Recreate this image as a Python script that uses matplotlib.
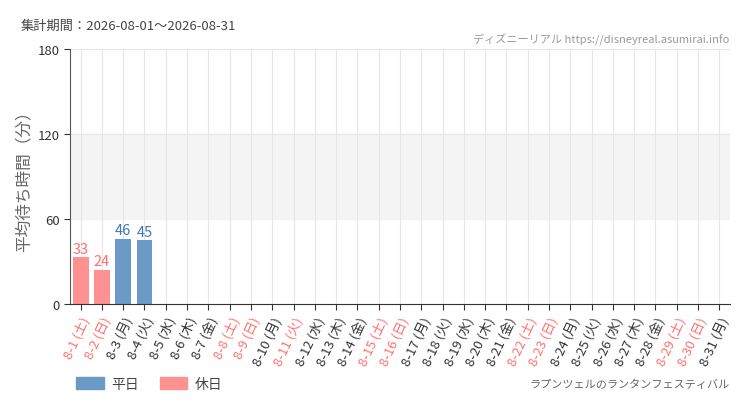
import matplotlib
matplotlib.use("Agg")
import matplotlib.pyplot as plt
from matplotlib.patches import Patch

plt.rcParams['font.family'] = ['Noto Sans CJK JP', 'DejaVu Sans']

# data
days = list(range(1, 32))
weekdays = ['土', '日', '月', '火', '水', '木', '金']
holidays = [1, 2, 8, 9, 11, 15, 16, 22, 23, 29, 30]
wait_values = {1: 33, 2: 24, 3: 46, 4: 45}
series_name = 'ラプンツェルのランタンフェスティバル'
period = '集計期間：2026-08-01～2026-08-31'
watermark = 'ディズニーリアル https://disneyreal.asumirai.info'
y_ticks = [0, 60, 120, 180]

blue = '#6b9ac6'
pink = '#ff9191'
blue_txt = '#3d78b3'
red_txt = '#ff6e6e'

labels = [f"8-{d} ({weekdays[(d - 1) % 7]})" for d in days]

fig = plt.figure(figsize=(7.5, 4.1), dpi=100)
ax = fig.add_axes([0.0933, 0.256, 0.88, 0.622])

ax.axhspan(60, 120, color='#f4f4f4', zorder=0)
for x in range(len(days)):
    ax.axvline(x, color='#e6e6e6', lw=0.8, zorder=0.5)
for y in [120, 180]:
    ax.axhline(y, color='#e6e6e6', lw=0.8, zorder=0.5)

for i, d in enumerate(days):
    if d not in wait_values:
        continue
    v = wait_values[d]
    hol = d in holidays
    ax.bar(i, v, width=0.75, color=pink if hol else blue, zorder=2)
    ax.text(i, v + 1.2, str(v), ha='center', va='bottom', fontsize=10.5,
            color=red_txt if hol else blue_txt)

ax.set_xlim(-0.5, len(days) - 0.5)
ax.set_ylim(0, 180)
ax.set_yticks(y_ticks)
ax.set_yticklabels([str(t) for t in y_ticks], fontsize=9.5, color='#333333')
ax.set_xticks(range(len(days)))
ax.set_xticklabels(labels, rotation=65, ha='right', rotation_mode='anchor', fontsize=9.5)
for lbl, d in zip(ax.get_xticklabels(), days):
    lbl.set_color('#ff7070' if d in holidays else '#333333')

for s in ['top', 'right']:
    ax.spines[s].set_visible(False)
ax.spines['left'].set_color('#555555')
ax.spines['bottom'].set_color('#333333')
ax.tick_params(axis='both', length=4, color='#333333')
ax.set_ylabel('平均待ち時間（分）', fontsize=12, color='#666666')
ax.yaxis.set_label_coords(-0.056, 0.5)

fig.text(0.027, 0.935, period, fontsize=9.5, color='#444444', va='center')
fig.text(0.973, 0.903, watermark, fontsize=8, color='#999999', ha='right', va='center')
fig.text(0.973, 0.062, series_name, fontsize=8, color='#666666', ha='right', va='center')

handles = [Patch(color=blue, label='平日'), Patch(color=pink, label='休日')]
fig.legend(handles=handles, loc='center left', bbox_to_anchor=(0.085, 0.062), ncol=2,
           frameon=False, fontsize=10, handlelength=2.0, handleheight=0.9,
           columnspacing=1.5, handletextpad=0.5, labelcolor='#444444')

fig.savefig('out.png', dpi=100)
